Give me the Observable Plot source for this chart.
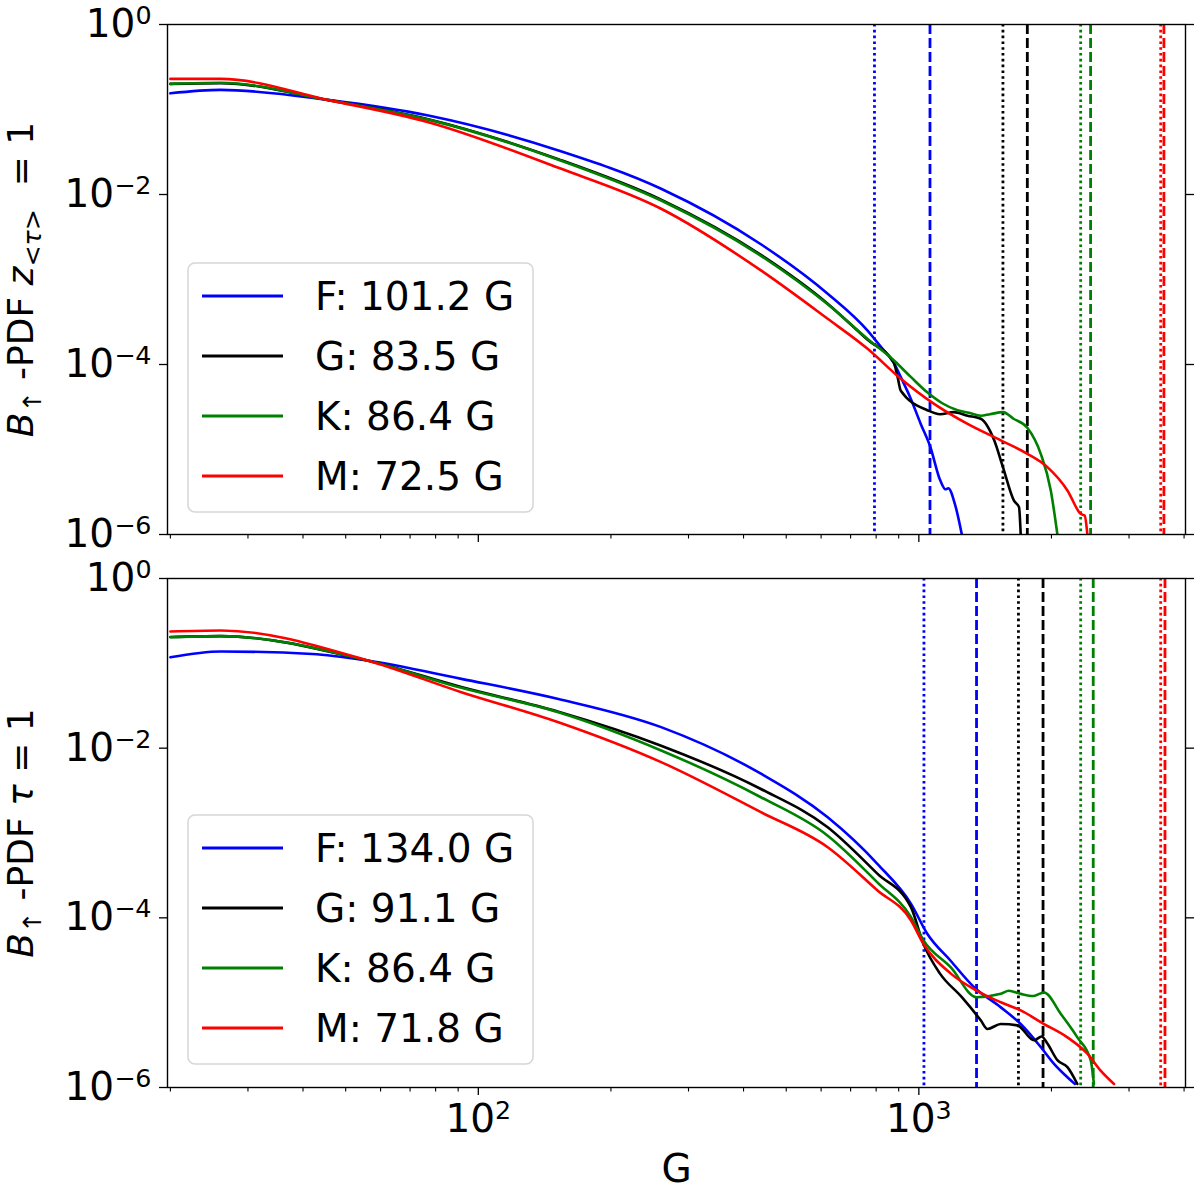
<!DOCTYPE html>
<html><head><meta charset="utf-8">
<script src="https://cdn.jsdelivr.net/npm/d3@7"></script>
<script src="https://cdn.jsdelivr.net/npm/@observablehq/plot@0.6"></script>
<style>
body{margin:0;background:#fff;}
#chart{width:1200px;height:1190px;position:relative;overflow:hidden;}
#chart svg{display:block;overflow:visible;}
</style></head><body><div id="chart"></div>
<script>
// ---------- data (G in gauss, PDF value) ----------
const stars = ["F", "G", "K", "M"];
const starColors = ["#0000ff", "#000000", "#008000", "#ff0000"];

// Top panel: z_<tau>=1
const topF = [[20,0.155],[26,0.17],[46,0.129],[77,0.085],[152,0.033],[260,0.0117],[438,0.0026],[621,6.8e-4],[765,2.5e-4],[821,1.6e-4],[877,1.05e-4],[910,7.1e-5],[956,4.1e-5],[1010,2.0e-5],[1062,1.07e-5],[1117,4.4e-6],[1150,3.4e-6],[1166,3.5e-6],[1207,2.3e-6],[1252,1.0e-6]];
const topG = [[20,0.2],[26,0.204],[46,0.128],[77,0.077],[152,0.026],[260,0.0087],[438,0.00195],[621,5.2e-4],[765,1.95e-4],[877,1.05e-4],[895,7.1e-5],[910,4.9e-5],[1045,2.9e-5],[1117,2.6e-5],[1200,2.75e-5],[1290,2.5e-5],[1382,2.3e-5],[1482,1.29e-5],[1552,6.2e-6],[1644,2.5e-6],[1688,2.1e-6],[1703,1.0e-6]];
const topK = [[20,0.2],[26,0.206],[46,0.128],[77,0.076],[152,0.0257],[260,0.0085],[438,0.0019],[621,5.1e-4],[765,2.0e-4],[877,1.12e-4],[960,7.1e-5],[1045,4.7e-5],[1130,3.5e-5],[1224,2.9e-5],[1300,2.7e-5],[1382,2.5e-5],[1450,2.6e-5],[1552,2.75e-5],[1640,2.3e-5],[1763,1.8e-5],[1891,8.9e-6],[1993,3.3e-6],[2063,1.0e-6]];
const topM = [[20,0.229],[26,0.229],[46,0.128],[77,0.071],[152,0.0206],[260,0.0068],[438,0.00128],[621,3.45e-4],[765,1.53e-4],[910,6.8e-5],[1083,3.44e-5],[1290,2.0e-5],[1535,1.28e-5],[1763,8.9e-6],[1958,6.2e-6],[2174,3.3e-6],[2330,1.75e-6],[2380,1.66e-6],[2413,1.0e-6]];

// Bottom panel: tau=1
const botF = [[20,0.118],[26,0.138],[42,0.129],[56,0.108],[91.5,0.0656],[152,0.038],[260,0.0177],[438,0.005],[621,0.00153],[806,4.3e-4],[960,1.46e-4],[1045,6.5e-5],[1182,3.1e-5],[1335,1.52e-5],[1535,8.8e-6],[1703,5.6e-6],[1891,3.0e-6],[2027,1.9e-6],[2174,1.32e-6],[2260,1.1e-6]];
const botG = [[20,0.204],[26,0.209],[56,0.108],[91.5,0.0525],[152,0.0269],[260,0.0107],[438,0.0033],[621,0.00117],[806,3.3e-4],[960,1.33e-4],[1023,5.0e-5],[1117,2.2e-5],[1252,1.16e-5],[1382,6.2e-6],[1431,4.9e-6],[1535,5.6e-6],[1674,5.4e-6],[1826,3.6e-6],[1900,4.0e-6],[1958,3.3e-6],[2063,2.1e-6],[2174,1.74e-6],[2290,1.1e-6]];
const botK = [[20,0.203],[26,0.209],[56,0.108],[91.5,0.0514],[152,0.0265],[260,0.0094],[438,0.00264],[621,9.3e-4],[806,2.6e-4],[960,1.02e-4],[1023,5.5e-5],[1182,2.6e-5],[1352,1.16e-5],[1535,1.27e-5],[1600,1.38e-5],[1703,1.27e-5],[1820,1.2e-5],[1924,1.32e-5],[2099,7.4e-6],[2290,3.9e-6],[2455,2.1e-6],[2497,1.1e-6]];
const botM = [[20,0.237],[26,0.244],[56,0.108],[91.5,0.0457],[152,0.0202],[260,0.00684],[438,0.00176],[621,6.8e-4],[806,2.1e-4],[960,9.3e-5],[1023,5.0e-5],[1182,2.2e-5],[1352,1.39e-5],[1535,1.01e-5],[1703,8.1e-6],[1924,5.6e-6],[2174,3.9e-6],[2413,2.5e-6],[2586,1.58e-6],[2774,1.1e-6]];

// Vertical reference lines (G) per star: dotted and dashed
const topDotted = [793, 1552, 2330, 3540];
const topDashed = [1060, 1763, 2454, 3600];
const botDotted = [1027, 1683, 2330, 3540];
const botDashed = [1352, 1914, 2488, 3620];

// Legend labels
const topLegend = ["F: 101.2 G", "G: 83.5 G", "K: 86.4 G", "M: 72.5 G"];
const botLegend = ["F: 134.0 G", "G: 91.1 G", "K: 86.4 G", "M: 71.8 G"];

// Ticks
const yTicks = [1, 1e-2, 1e-4, 1e-6];
const xMajor = [100, 1000];
const xMinor = [20,30,40,50,60,70,80,90,200,300,400,500,600,700,800,900,2000,3000,4000];

// ---------- drawing ----------
const NS = "http://www.w3.org/2000/svg";
const FONT = "DejaVu Sans";
const FS = 39;      // tick font size
const GFS = 39;     // legend font size
const LFS = 36;     // axis label font size
const fmtPow = d => "10^" + String(Math.round(Math.log10(d))).replace("-", "\u2212");

function rows(curves) {
  const out = [];
  curves.forEach((c, i) => c.forEach(([g, p]) => out.push({star: stars[i], G: g, pdf: p})));
  return out;
}
function vrows(vals) { return vals.map((g, i) => ({star: stars[i], G: g})); }

function superscripts(svg) {
  svg.querySelectorAll("text").forEach(t => {
    const m = /^10\^(.+)$/.exec(t.textContent);
    if (!m) return;
    t.textContent = "";
    const a = document.createElementNS(NS, "tspan"); a.textContent = "10"; t.appendChild(a);
    const b = document.createElementNS(NS, "tspan"); b.textContent = m[1];
    b.setAttribute("font-size", (FS * 0.65) + "px"); b.setAttribute("dy", (-FS * 0.33) + "px");
    t.appendChild(b);
  });
}

function mathLabel(svg, key, parts) {
  svg.querySelectorAll("text").forEach(t => {
    if (t.textContent !== key) return;
    t.textContent = "";
    t.setAttribute("font-size", LFS + "px");
    let shift = 0;
    parts.forEach(([s, st]) => {
      const sp = document.createElementNS(NS, "tspan");
      sp.textContent = s;
      const sub = st.startsWith("sub");
      const target = sub ? LFS * 0.22 : 0;
      if (target !== shift) { sp.setAttribute("dy", (target - shift) + "px"); shift = target; }
      if (sub) sp.setAttribute("font-size", (LFS * 0.7) + "px");
      if (st === "i" || st === "subi") sp.setAttribute("font-style", "italic");
      t.appendChild(sp);
    });
  });
}

function addLegend(svg, labels, boxTop) {
  const g = d3.select(svg).append("g").attr("font-family", FONT).attr("font-size", GFS + "px")
    .attr("text-anchor", "start");
  g.append("rect").attr("x", 188).attr("y", boxTop).attr("width", 345).attr("height", 249)
    .attr("rx", 7).attr("fill", "#fff").attr("fill-opacity", 0.8)
    .attr("stroke", "#d6d6d6").attr("stroke-width", 1.5);
  labels.forEach((lab, i) => {
    const cy = boxTop + 33 + i * 60;
    g.append("line").attr("x1", 202).attr("x2", 283).attr("y1", cy).attr("y2", cy)
      .attr("stroke", starColors[i]).attr("stroke-width", 3);
    g.append("text").attr("x", 315).attr("y", cy).attr("dy", "0.36em").attr("fill", "#000")
      .attr("text-anchor", "start").text(lab);
  });
}

function panel(o) {
  const svg = Plot.plot({
    width: 1200, height: o.height,
    marginLeft: 167, marginRight: 15, marginTop: o.mt, marginBottom: o.mb,
    style: {fontFamily: FONT, fontSize: FS + "px", overflow: "visible", background: "transparent", color: "#000"},
    x: {type: "log", domain: [19.7, 4030]},
    y: {type: "log", domain: [1e-6, 1]},
    color: {domain: stars, range: starColors},
    marks: [
      Plot.ruleX(vrows(o.dotted), {x: "G", stroke: "star", strokeWidth: 2.8, strokeDasharray: "2.6,3.2"}),
      Plot.ruleX(vrows(o.dashed), {x: "G", stroke: "star", strokeWidth: 2.8, strokeDasharray: "10,4"}),
      Plot.line(rows(o.curves), {x: "G", y: "pdf", z: "star", stroke: "star", strokeWidth: 2.6,
        curve: "monotone-x", clip: true}),
      Plot.axisY({ticks: yTicks, tickSize: 8, tickPadding: 8, tickFormat: fmtPow, strokeWidth: 1.3,
        label: o.ylabel, labelAnchor: "center", labelOffset: 160, labelArrow: "none"}),
      Plot.axisY({anchor: "right", ticks: yTicks, tickSize: 8, tickFormat: () => "", label: null, strokeWidth: 1.3}),
      Plot.axisX({ticks: xMajor, tickSize: 8, tickPadding: 9, strokeWidth: 1.3,
        tickFormat: o.xlabels ? fmtPow : () => "", label: o.xlabels ? "G" : null,
        labelAnchor: "center", labelOffset: 94, labelArrow: "none"}),
      Plot.axisX({ticks: xMinor, tickSize: 4.5, tickFormat: () => "", label: null, strokeWidth: 1.1}),
      Plot.frame({stroke: "#000", strokeWidth: 1.4})
    ]
  });
  superscripts(svg);
  mathLabel(svg, o.ylabel, o.ylabelParts);
  addLegend(svg, o.legend, o.legendTop);
  return svg;
}

const chart = document.getElementById("chart");
chart.appendChild(panel({
  height: 560, mt: 24, mb: 26,
  curves: [topF, topG, topK, topM], dotted: topDotted, dashed: topDashed,
  ylabel: "B↑ -PDF z<τ> = 1",
  ylabelParts: [["B","i"],["↑","sub"],[" -PDF ",""],["z","i"],["<","sub"],["τ","subi"],[">","sub"],["  = 1",""]],
  xlabels: false, legend: topLegend, legendTop: 263
}));
chart.appendChild(panel({
  height: 630, mt: 18, mb: 103,
  curves: [botF, botG, botK, botM], dotted: botDotted, dashed: botDashed,
  ylabel: "B↑ -PDF τ = 1",
  ylabelParts: [["B","i"],["↑","sub"],[" -PDF ",""],["τ","i"],[" = 1",""]],
  xlabels: true, legend: botLegend, legendTop: 255
}));
</script></body></html>
